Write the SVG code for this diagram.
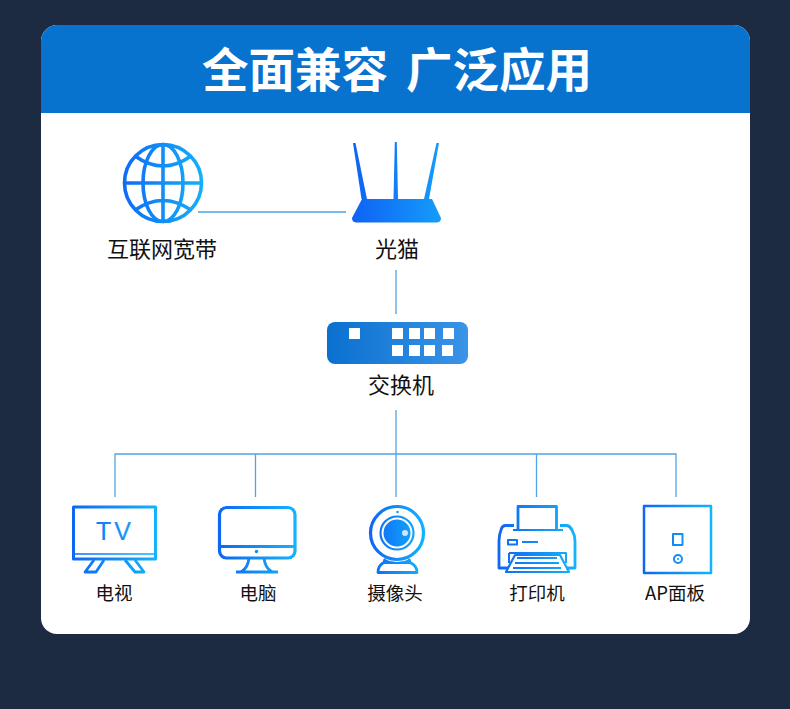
<svg xmlns="http://www.w3.org/2000/svg" width="790" height="709" viewBox="0 0 790 709">
<defs>
<linearGradient id="gu" gradientUnits="userSpaceOnUse" x1="124" y1="0" x2="203" y2="0"><stop offset="0" stop-color="#0f6cf5"/><stop offset="1" stop-color="#14b0fa"/></linearGradient>
<linearGradient id="gr" gradientUnits="userSpaceOnUse" x1="352" y1="0" x2="441" y2="0"><stop offset="0" stop-color="#0f62f5"/><stop offset="1" stop-color="#149cfa"/></linearGradient>
<linearGradient id="gs" x1="0" y1="0" x2="1" y2="0"><stop offset="0" stop-color="#0a70cf"/><stop offset="1" stop-color="#3a94e8"/></linearGradient>
<linearGradient id="gtv" gradientUnits="userSpaceOnUse" x1="72" y1="0" x2="157" y2="0"><stop offset="0" stop-color="#0f66f5"/><stop offset="1" stop-color="#14b4fa"/></linearGradient>
<linearGradient id="gpc" gradientUnits="userSpaceOnUse" x1="218" y1="0" x2="296" y2="0"><stop offset="0" stop-color="#0f66f5"/><stop offset="1" stop-color="#14b4fa"/></linearGradient>
<linearGradient id="gcam" gradientUnits="userSpaceOnUse" x1="370" y1="0" x2="425" y2="0"><stop offset="0" stop-color="#0f66f5"/><stop offset="1" stop-color="#14b4fa"/></linearGradient>
<linearGradient id="gpr" gradientUnits="userSpaceOnUse" x1="498" y1="0" x2="576" y2="0"><stop offset="0" stop-color="#0f66f5"/><stop offset="1" stop-color="#14b4fa"/></linearGradient>
<linearGradient id="gap" gradientUnits="userSpaceOnUse" x1="643" y1="0" x2="712" y2="0"><stop offset="0" stop-color="#0f66f5"/><stop offset="1" stop-color="#14b4fa"/></linearGradient>
</defs>
<style>
text{font-family:"Noto Sans CJK SC","Noto Sans",sans-serif;fill:#111;text-anchor:middle}
.t{font-size:46.500px;font-weight:700;fill:#fff;text-anchor:start}
.l1{font-size:22px}.l2{font-size:18.500px}
.c{fill:none;stroke:#4fa3e6;stroke-width:1.300}
.s{fill:#fff}
path,rect,circle,ellipse,line{stroke-linejoin:round}
</style>
<rect width="790" height="709" fill="#1c2b42"/>
<g id="card">
<rect x="41" y="25" width="709" height="609" rx="16" fill="#fff"/>
<path d="M41 113V41a16 16 0 0 1 16-16H734a16 16 0 0 1 16 16V113Z" fill="#0872cf"/>
<text class="t" x="202" y="87">全面兼容</text>
<text class="t" x="406" y="87">广泛应用</text>
</g>
<g id="connectors">
<path class="c" d="M198 212H346M396 270V314M396 410V497M115 497V454H676V497M255.500 454V497M536.500 454V497"/>
</g>
<g id="internet">
<g fill="none" stroke="url(#gu)" stroke-width="3.600">
<circle cx="163" cy="183" r="38.500"/>
<ellipse cx="163" cy="183" rx="20" ry="38.500"/>
<path d="M163 144.500V221.500M124.500 183H201.500M135 156Q163 176 191 156M135 210Q163 191 191 210"/>
</g>
<text class="l1" x="162" y="257">互联网宽带</text>
</g>
<g id="modem">
<path d="M353 143L355.500 143L367 199L361.500 199ZM394.800 142H396.800L398 199H393.500ZM436.500 143L439 143L429 199L424 199Z" fill="url(#gr)"/>
<path d="M362 199H432L441 218Q441 222 437 222.500H356Q352 222 352 218Z" fill="url(#gr)"/>
<text class="l1" x="397" y="257">光猫</text>
</g>
<g id="switch">
<rect x="327" y="322" width="141" height="42" rx="8" fill="url(#gs)"/>
<g class="s">
<rect x="349" y="328" width="11" height="11"/>
<rect x="392" y="328" width="11" height="11"/><rect x="409" y="328" width="11" height="11"/><rect x="424" y="328" width="11" height="11"/><rect x="443" y="328" width="11" height="11"/>
<rect x="392" y="345" width="11" height="11"/><rect x="409" y="345" width="11" height="11"/><rect x="424" y="345" width="11" height="11"/><rect x="442" y="345" width="11" height="11"/>
</g>
<text class="l1" x="401" y="393">交换机</text>
</g>
<g id="tv">
<g fill="none" stroke="url(#gtv)" stroke-width="3">
<rect x="73.500" y="507" width="82" height="52"/>
<path d="M74 554H155" stroke-width="1.500"/>
<path d="M94 560L85 572H96L104 560M125 560L135 572H144L135 560" stroke-width="2.800"/>
</g>
<text x="115" y="540" font-size="25" stroke="url(#gtv)" stroke-width="0.200" style="font-family:'Liberation Sans',sans-serif;fill:url(#gtv)" letter-spacing="3">TV</text>
<text class="l2" x="114" y="600">电视</text>
</g>
<g id="pc">
<g fill="none" stroke="url(#gpc)" stroke-width="3.200">
<rect x="219.500" y="507.500" width="75.500" height="50.500" rx="7"/>
<path d="M219 546.500H295"/>
<path d="M249 558Q248 568 241 572M264 558Q265 568 272 572" stroke-width="2.800"/>
<path d="M236 572H278"/>
</g>
<circle cx="256.500" cy="551.500" r="1.700" fill="#0f8cf8"/>
<text class="l2" x="258" y="600">电脑</text>
</g>
<g id="camera">
<g fill="none" stroke="url(#gcam)">
<circle cx="397" cy="533" r="26.500" stroke-width="3.200"/>
<circle cx="397" cy="533" r="16.500" stroke-width="2.200"/>
<path d="M384 559Q386 561 383 563Q378 566 378 572.500H417Q417 566 411 563Q408 561 410 559" stroke-width="2.800"/>
</g>
<path d="M384 559Q397 565 410 559L412 564H382Z" fill="url(#gcam)"/>
<circle cx="397" cy="533" r="13.500" fill="url(#gcam)"/>
<circle cx="405" cy="533" r="3" fill="#cfe6fc"/>
<circle cx="397.500" cy="512" r="1.200" fill="#0f8cf8"/>
<text class="l2" x="395" y="600">摄像头</text>
</g>
<g id="printer">
<g fill="none" stroke="url(#gpr)" stroke-width="2.800">
<path d="M518 530V506.500H556.500V530"/>
<path d="M513 530H563" stroke-width="2"/>
<path d="M514 525.500H505Q502 526 501 530Q499 535 499 541V568H508M560 525.500H567Q570 526 572 530Q575 535 575 541V568H566"/>
<rect x="508" y="540" width="9" height="4.500" stroke-width="2"/>
<path d="M522 542H538" stroke-width="2"/>
<path d="M509 553H566V563M509 553V563" stroke-width="2"/>
<path d="M515 555L506 572H569L560 555Z" stroke-width="2.200"/>
<path d="M517 558H557M515 563H559M513 568H561" stroke-width="1.800"/>
</g>
<text class="l2" x="537" y="600">打印机</text>
</g>
<g id="ap">
<g fill="none" stroke="url(#gap)" stroke-width="2.500">
<rect x="644" y="506" width="67" height="67"/>
<rect x="673" y="534" width="9.500" height="11" stroke-width="2"/>
<circle cx="678" cy="559" r="4" stroke-width="2"/>
</g>
<circle cx="678" cy="559" r="1" fill="#0f8cf8"/>
<text class="l2" x="675" y="600">AP面板</text>
</g>
</svg>
